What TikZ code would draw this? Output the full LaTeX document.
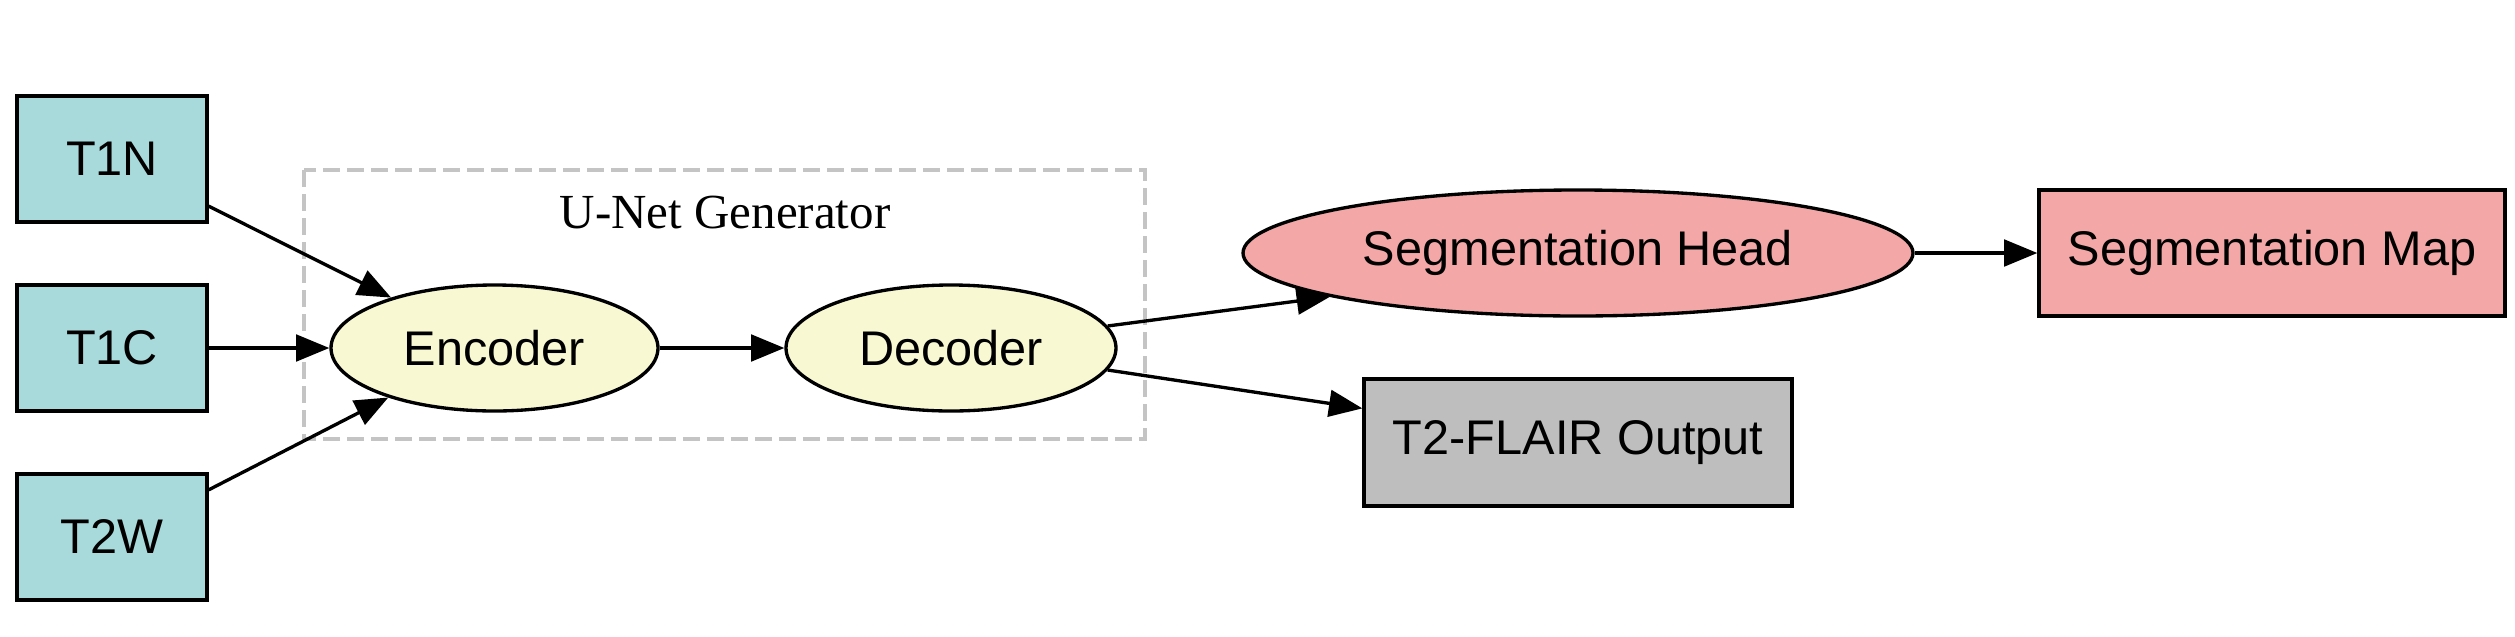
\documentclass[tikz,border=0pt]{standalone}
\usepackage{fontspec}
\setmainfont{Liberation Sans}
\newfontfamily\clusterfont{Liberation Serif}
\usetikzlibrary{arrows.meta,shapes.geometric}
\definecolor{tealbox}{HTML}{A8DADC}
\definecolor{yellowell}{HTML}{F8F8D2}
\definecolor{pinkseg}{HTML}{F4A7A7}
\definecolor{grayout}{HTML}{BEBEBE}
\definecolor{clustergray}{HTML}{C4C4C4}
\tikzset{
  base/.style={draw=black, line width=1pt, inner sep=0pt, font=\fontsize{14.6}{16}\selectfont, minimum height=37.8pt},
  inbox/.style={base, rectangle, fill=tealbox, minimum width=57pt},
  ell/.style={base, ellipse, fill=yellowell},
  edge/.style={draw=black, line width=1pt, -{Triangle[length=10pt,width=8pt]}},
  cluster/.style={draw=clustergray, line width=1pt, dash pattern=on 5.2pt off 2pt}
}
\begin{document}
\begin{tikzpicture}[x=0.3pt, y=-0.3pt]
\useasboundingbox (0,0) rectangle (2515,636);
% cluster
\draw[cluster] (304,170) rectangle (1145,439);
\node[font=\clusterfont\fontsize{14.7}{16}\selectfont] (clabel) at (725,213) {U-Net Generator};
% nodes
\node[inbox] (T1N) at (112,159) {T1N};
\node[inbox] (T1C) at (112,348) {T1C};
\node[inbox] (T2W) at (112,537) {T2W};
\node[ell, minimum width=98.1pt] (Enc) at (494.5,348) {Encoder};
\node[ell, minimum width=99pt] (Dec) at (951,348) {Decoder};
\node[base, ellipse, fill=pinkseg, minimum width=201pt] (Head) at (1578,253) {Segmentation Head};
\node[base, rectangle, fill=pinkseg, minimum width=139.8pt] (Map) at (2272,253) {Segmentation Map};
\node[base, rectangle, fill=grayout, minimum width=128.4pt, minimum height=38.1pt] (Out) at (1578,442.5) {T2-FLAIR Output};
% edges
\draw[edge] (T1N.-26.8) -- (Enc.154.5);
\draw[edge] (T1C.east) -- (Enc.west);
\draw[edge] (T2W.26.8) -- (Enc.205.5);
\draw[edge] (Enc.east) -- (Dec.west);
\draw[edge] (Dec.8.7) -- (Head.190);
\draw[edge] (Dec.-8.4) -- (Out.171.4);
\draw[edge] (Head.east) -- (Map.west);
\end{tikzpicture}
\end{document}
